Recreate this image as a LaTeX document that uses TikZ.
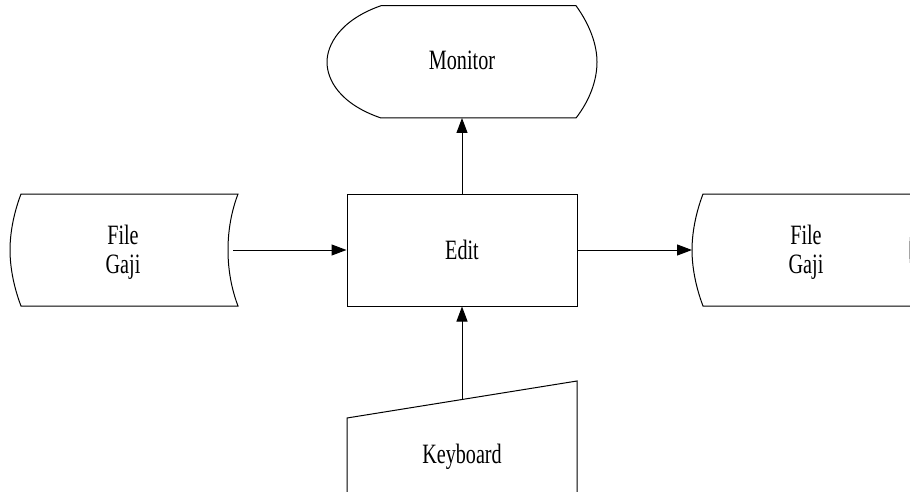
\documentclass[tikz,border=0pt]{standalone}
\usepackage{fontspec}
\newfontfamily\lblfont[FakeStretch=0.72]{Liberation Serif}
\usetikzlibrary{arrows.meta}
\begin{document}
\begin{tikzpicture}[x=1pt,y=-1pt,
  outline/.style={draw=black,line width=1pt},
  lbl/.style={font={\lblfont\fontsize{28}{29.3}\selectfont},align=center,inner sep=0pt,anchor=base},
  flow/.style={draw=black,line width=1pt,-{Triangle[length=15pt,width=11pt]}}]
\useasboundingbox (0,0) rectangle (910,492);
\clip (0,0) rectangle (910,492);

% Monitor (display symbol)
\draw[outline] (381,5.7) -- (576,5.7)
  .. controls (590,25) and (597,45) .. (597,62)
  .. controls (597,80) and (590,100) .. (576,118)
  -- (381,118)
  .. controls (340,104) and (327,80) .. (327,62)
  .. controls (327,45) and (340,20) .. (381,5.7) -- cycle;
\coordinate (monitor-s) at (462,118);
\node[lbl] (monitor) at (462,70) {Monitor};

% Edit process
\node[outline,minimum width=230pt,minimum height=112pt,inner sep=0pt] (edit) at (462,250) {};
\node[lbl] (edittext) at (462,259) {Edit};

% Stored data, input side
\draw[outline] (21,194) -- (238,194)
  .. controls (230,215) and (228,235) .. (228,250)
  .. controls (228,265) and (230,285) .. (238,306)
  -- (21,306)
  .. controls (13,285) and (10,265) .. (10,250)
  .. controls (10,235) and (13,215) .. (21,194) -- cycle;
\coordinate (filein-e) at (233,250);
\node[lbl] (filein) at (123,273.3) {File\\Gaji};

% Stored data, output side
\begin{scope}[xshift=682pt]
\draw[outline] (21,194) -- (238,194)
  .. controls (230,215) and (228,235) .. (228,250)
  .. controls (228,265) and (230,285) .. (238,306)
  -- (21,306)
  .. controls (13,285) and (10,265) .. (10,250)
  .. controls (10,235) and (13,215) .. (21,194) -- cycle;
\end{scope}
\coordinate (fileout-w) at (692,250);
\node[lbl] (fileout) at (806,273.3) {File\\Gaji};

% Keyboard (manual input)
\draw[outline] (347,500) -- (347,418) -- (577,381) -- (577,500);
\coordinate (keyboard-n) at (462,399.5);
\node[lbl] (keyboard) at (462,463) {Keyboard};

% Connectors
\draw[flow] (filein-e) -- (edit.west);
\draw[flow] (edit.east) -- (fileout-w);
\draw[flow] (edit.north) -- (monitor-s);
\draw[flow] (keyboard-n) -- (edit.south);
\end{tikzpicture}
\end{document}
